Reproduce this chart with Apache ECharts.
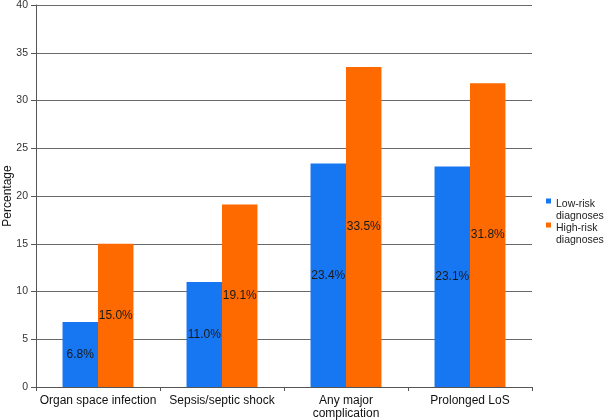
<!DOCTYPE html>
<html><head><meta charset="utf-8">
<script src="https://cdn.jsdelivr.net/npm/echarts@6/dist/echarts.min.js"></script>
<style>html,body{margin:0;padding:0;background:#fff}#c{width:609px;height:420px}</style>
</head><body><div id="c"></div>
<script>
const categories = ['Organ space infection', 'Sepsis/septic shock', 'Any major\ncomplication', 'Prolonged LoS'];
const lowRisk = [6.8, 11.0, 23.4, 23.1];
const highRisk = [15.0, 19.1, 33.5, 31.8];
const seriesNames = ['Low-risk\ndiagnoses', 'High-risk\ndiagnoses'];

const chart = echarts.init(document.getElementById('c'));
const font = 'Liberation Sans, Arial, sans-serif';
const lbl = {show: true, position: 'inside', formatter: p => p.value.toFixed(1) + '%', color: '#1a1a1a', fontSize: 12, fontFamily: font};
chart.setOption({
  animation: false,
  grid: {left: 36, right: 77, top: 5, bottom: 33, outerBoundsMode: 'none', containLabel: false},
  legend: {
    orient: 'vertical', left: 546, top: 198, padding: 0,
    itemWidth: 5, itemHeight: 23, itemGap: 0,
    icon: 'path://M0,0L5,0L5,5L0,5Z M0,23L0,23',
    textStyle: {fontSize: 10.5, fontFamily: font, color: '#222', lineHeight: 12},
    data: seriesNames
  },
  xAxis: {
    type: 'category', data: categories,
    axisLine: {lineStyle: {color: '#555'}},
    axisTick: {show: true, lineStyle: {color: '#555'}, length: 4},
    axisLabel: {color: '#111', fontSize: 12, fontFamily: font, margin: 7, lineHeight: 13, interval: 0}
  },
  yAxis: {
    type: 'value', min: 0, max: 40, interval: 5,
    name: 'Percentage', nameLocation: 'middle', nameGap: 22, nameMoveOverlap: false,
    nameTextStyle: {color: '#111', fontSize: 12, fontFamily: font},
    axisLine: {show: true, lineStyle: {color: '#555'}},
    axisTick: {show: true, lineStyle: {color: '#555'}, length: 5},
    axisLabel: {color: '#333', fontSize: 10.5, fontFamily: font, margin: 8},
    splitLine: {lineStyle: {color: '#6a6a6a', width: 1}}
  },
  series: [
    {name: seriesNames[0], type: 'bar', data: lowRisk, barWidth: '28.6%', barGap: '0%',
     itemStyle: {color: '#1777F2'}, label: lbl},
    {name: seriesNames[1], type: 'bar', data: highRisk, barWidth: '28.6%',
     itemStyle: {color: '#FF6A00'}, label: lbl}
  ]
});
</script></body></html>
